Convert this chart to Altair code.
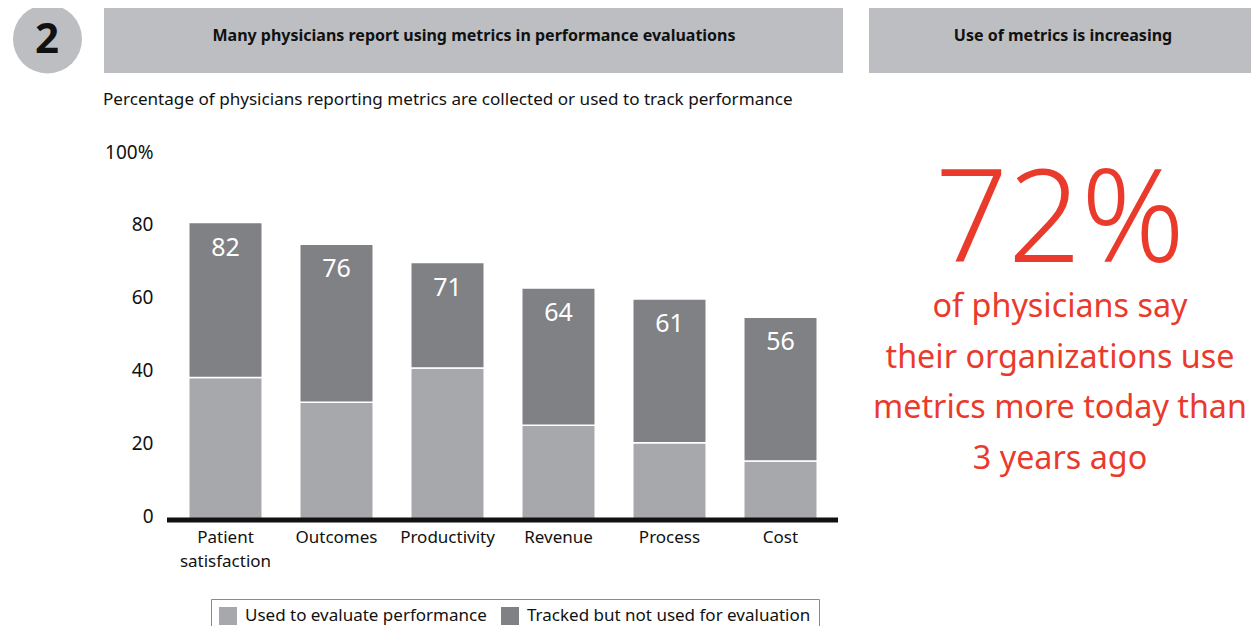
import altair as alt
import pandas as pd

# ---- data ----
categories = ["Patient satisfaction", "Outcomes", "Productivity", "Revenue", "Process", "Cost"]
used_vals = [39.4, 32.6, 42.0, 26.3, 21.5, 16.5]
tracked_vals = [42.6, 43.4, 29.0, 37.7, 39.5, 39.5]
total_labels = [82, 76, 71, 64, 61, 56]
series_names = ["Used to evaluate performance", "Tracked but not used for evaluation"]
series_colors = ["#a7a8ab", "#808185"]
y_ticks = [0, 20, 40, 60, 80, 100]

title_left = "Many physicians report using metrics in performance evaluations"
title_right = "Use of metrics is increasing"
subtitle = "Percentage of physicians reporting metrics are collected or used to track performance"
big_number = "72%"
big_text = ["of physicians say", "their organizations use", "metrics more today than", "3 years ago"]

FONT = "Noto Sans"
RED = "#ea3a2c"
HEAD_GRAY = "#bdbec1"

rows = []
for i, c in enumerate(categories):
    rows.append({"category": c, "series": series_names[0], "value": used_vals[i], "order": 0})
    rows.append({"category": c, "series": series_names[1], "value": tracked_vals[i], "order": 1})
df = pd.DataFrame(rows)
df_tot = pd.DataFrame({"category": categories, "total": total_labels})
dummy = pd.DataFrame({"a": [0]})

x_enc = alt.X(
    "category:N",
    sort=categories,
    scale=alt.Scale(paddingInner=0.338, paddingOuter=0.169),
    axis=alt.Axis(
        title=None, domain=False, ticks=False, labelAngle=0, labelFontSize=17,
        labelFont=FONT, labelColor="#111", labelPadding=8, labelLineHeight=24,
        labelExpr="datum.value == 'Patient satisfaction' ? ['Patient', 'satisfaction'] : datum.label",
    ),
)

bars = alt.Chart(df).mark_bar(stroke="white", strokeWidth=1.5).encode(
    x=x_enc,
    y=alt.Y(
        "value:Q",
        stack="zero",
        scale=alt.Scale(domain=[0, 100], nice=False),
        axis=alt.Axis(
            title=None, values=y_ticks, domain=False, ticks=False, tickSize=0, grid=False,
            labelFontSize=19, labelFont=FONT, labelColor="#111", labelPadding=17,
            labelOffset=-5,
            labelExpr="datum.value == 100 ? '100%' : datum.label",
        ),
    ),
    color=alt.Color(
        "series:N",
        scale=alt.Scale(domain=series_names, range=series_colors),
        legend=alt.Legend(
            title=None, orient="none", legendX=41, legendY=442, direction="horizontal",
            strokeColor="#8a8a8a", padding=8, symbolType="square", symbolSize=324,
            symbolStrokeWidth=0, symbolOpacity=1, labelFontSize=17, labelFont=FONT,
            labelColor="#111", columnPadding=14, labelOffset=8, cornerRadius=0,
            labelLimit=0,
        ),
    ),
    order=alt.Order("order:Q"),
)

bar_labels = alt.Chart(df_tot).mark_text(
    color="white", fontSize=25, font=FONT, baseline="alphabetic", dy=33
).encode(
    x=alt.X("category:N", sort=categories),
    y=alt.Y("total:Q"),
    text=alt.Text("total:Q"),
)

baseline_rule = alt.Chart(dummy).mark_rule(color="#111", strokeWidth=5).encode(
    x=alt.value(-3), x2=alt.value(668), y=alt.value(363)
)

# header decorations (plot coords = page coords - (170, 157))
box1 = alt.Chart(dummy).mark_rect(color=HEAD_GRAY).encode(
    x=alt.value(-66), x2=alt.value(673), y=alt.value(-153), y2=alt.value(-84)
)
box2 = alt.Chart(dummy).mark_rect(color=HEAD_GRAY).encode(
    x=alt.value(699), x2=alt.value(1095), y=alt.value(-153), y2=alt.value(-84)
)
circle = alt.Chart(dummy).mark_point(shape="circle", filled=True, size=4761, opacity=1,
                                     color=HEAD_GRAY).encode(
    x=alt.value(-122.5), y=alt.value(-118)
)
num2 = alt.Chart(dummy).mark_text(fontSize=42, fontWeight="bold", font=FONT, color="#111",
                                  baseline="middle", align="center").encode(
    x=alt.value(-123), y=alt.value(-117), text=alt.value("2")
)
t1 = alt.Chart(dummy).mark_text(fontSize=16, fontWeight="bold", font=FONT, color="#111",
                                baseline="middle", align="center").encode(
    x=alt.value(304), y=alt.value(-121), text=alt.value(title_left)
)
t2 = alt.Chart(dummy).mark_text(fontSize=16, fontWeight="bold", font=FONT, color="#111",
                                baseline="middle", align="center").encode(
    x=alt.value(893), y=alt.value(-121), text=alt.value(title_right)
)
sub = alt.Chart(dummy).mark_text(fontSize=17.1, font=FONT, color="#111",
                                 baseline="middle", align="left").encode(
    x=alt.value(-67), y=alt.value(-57), text=alt.value(subtitle)
)
big = alt.Chart(dummy).mark_text(fontSize=128, font=FONT, fontWeight=300, color=RED,
                                 baseline="alphabetic", align="center").encode(
    x=alt.value(890), y=alt.value(105), text=alt.value(big_number)
)
bigtxt = alt.Chart(dummy).mark_text(fontSize=32.3, font=FONT, color=RED, lineHeight=50.5,
                                    baseline="alphabetic", align="center").encode(
    x=alt.value(890), y=alt.value(160), text=alt.value(big_text)
)

chart = alt.layer(
    box1, box2, circle, num2, t1, t2, sub, big, bigtxt,
    bars, bar_labels, baseline_rule,
).properties(
    width=666, height=364,
    padding={"left": 162, "top": 149, "right": 415, "bottom": 105},
    autosize=alt.AutoSizeParams(type="none"),
).configure(background="white").configure_view(stroke=None, strokeWidth=0)

chart.save("out.html", embed_options={"renderer": "svg", "actions": False})
